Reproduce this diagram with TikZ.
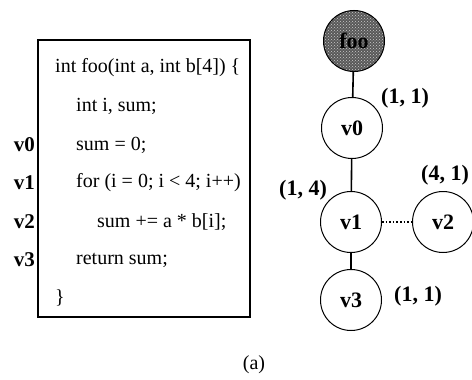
\documentclass[tikz,border=0pt]{standalone}
\usepackage{fontspec}
\setmainfont{Liberation Serif}
\usetikzlibrary{positioning,patterns}

\begin{document}
\begin{tikzpicture}[x=1pt,y=-1pt,node distance=30pt,
  code/.style={anchor=west,inner sep=0pt,font=\fontsize{20}{24}\selectfont},
  vlabel/.style={anchor=east,inner sep=0pt,font=\fontsize{21}{24}\selectfont\bfseries},
  blk/.style={circle,draw,line width=1pt,minimum size=61pt,inner sep=0pt,font=\fontsize{22}{24}\selectfont\bfseries},
  weight/.style={inner sep=0pt,font=\fontsize{22}{24}\selectfont\bfseries},
  link/.style={line width=1.6pt}]
  \useasboundingbox (0,0) rectangle (472,380);

  % source code
  \draw[line width=2pt] (38,40) rectangle (250,317);
  \node[code] (l0) at (55,68) {int foo(int a, int b[4]) \{};
  \node[code] (l1) at (76,106) {int i, sum;};
  \node[code] (l2) at (76,145) {sum = 0;};
  \node[code] (l3) at (76,183) {for (i = 0; i < 4; i++)};
  \node[code] (l4) at (97,222) {sum += a * b[i];};
  \node[code] (l5) at (76,260) {return sum;};
  \node[code] (l6) at (55,298) {\}};

  \node[vlabel] (c0) at (35,145) {v0};
  \node[vlabel] (c1) at (35,183) {v1};
  \node[vlabel] (c2) at (35,222) {v2};
  \node[vlabel] (c3) at (35,260) {v3};

  % graph
  \node[blk,preaction={fill=black!65},pattern=crosshatch dots,pattern color=white!80!black] (foo) at (354,41) {foo};
  \node[blk] (v0) at (352,128) {v0};
  \node[blk] (v1) at (351,222) {v1};
  \node[blk,right=of v1] (v2) {v2};
  \node[blk] (v3) at (351,300) {v3};

  \draw[link] (foo) -- (v0);
  \draw[link] (v0) -- (v1);
  \draw[link] (v1) -- (v3);
  \draw[link,dotted] (v1) -- (v2);

  \node[weight] (w0) at (405,98) {(1, 1)};
  \node[weight] (w1) at (303,190) {(1, 4)};
  \node[weight] (w2) at (445,175) {(4, 1)};
  \node[weight] (w3) at (418,296) {(1, 1)};

  \node[font=\fontsize{20}{24}\selectfont] (cap) at (254,365) {(a)};
\end{tikzpicture}
\end{document}
